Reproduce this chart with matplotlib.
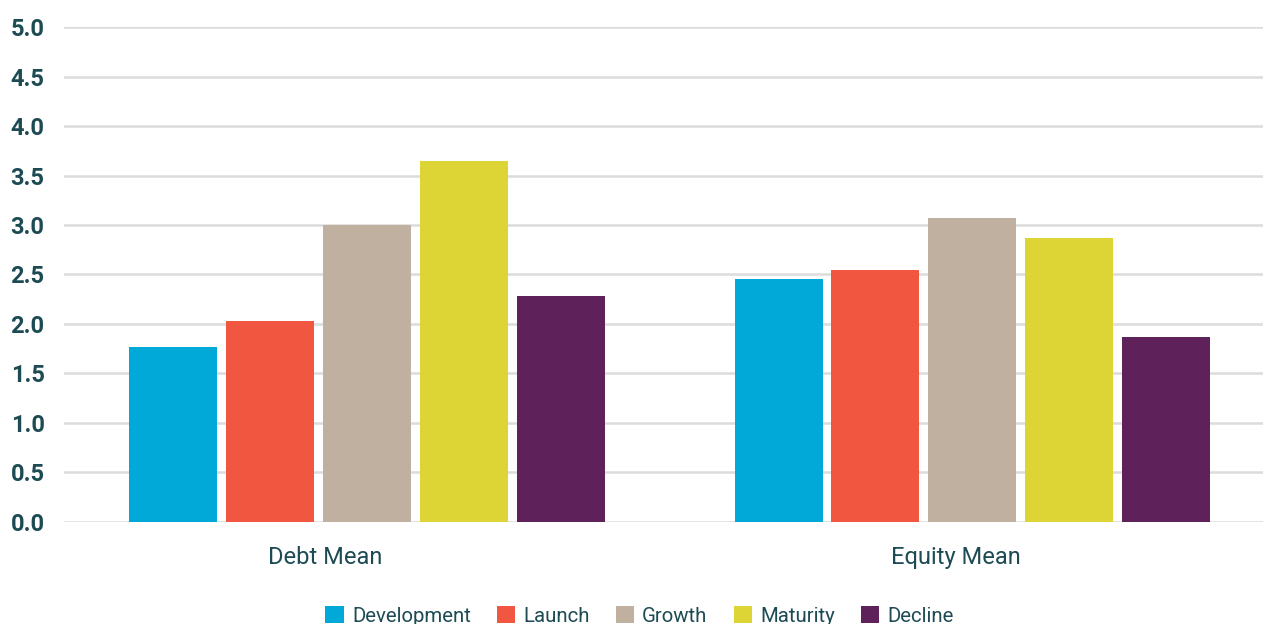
import numpy as np
import matplotlib.pyplot as plt

# data
groups = ['Debt Mean', 'Equity Mean']
stages = ['Development', 'Launch', 'Growth', 'Maturity', 'Decline']
development = [1.77, 2.45]
launch = [2.03, 2.55]
growth = [3.00, 3.07]
maturity = [3.65, 2.87]
decline = [2.28, 1.87]
colors = ['#00A9D8', '#F05640', '#BFB0A0', '#DCD535', '#5E2159']
yticks = np.arange(0, 5.01, 0.5)

txt = '#1D4B54'
plt.rcParams['font.family'] = ['Roboto', 'DejaVu Sans']

fig = plt.figure(figsize=(12.63, 6.24), dpi=100)
ax = fig.add_axes([0.0507, 0.1635, 0.9493, 0.7932])

series = [development, launch, growth, maturity, decline]
x = np.arange(len(groups))
step = 0.16
width = 0.1453
for i, (vals, name, c) in enumerate(zip(series, stages, colors)):
    ax.bar(x + (i - 2) * step, vals, width, color=c, label=name, zorder=3)

ax.set_ylim(0, 5)
ax.set_xlim(-0.5, 1.48)
ax.set_yticks(yticks)
ax.set_yticklabels([f'{v:.1f}' for v in yticks], fontsize=17, fontweight='bold', color=txt)
ax.tick_params(axis='y', length=0, pad=14)
ax.set_xticks([-0.0685, 0.9736])
ax.set_xticklabels(groups, fontsize=17, color=txt)
ax.tick_params(axis='x', length=0, pad=17)
ax.grid(axis='y', color='#DCDCDC', linewidth=1.8, zorder=0)
ax.set_axisbelow(True)
for s in ax.spines.values():
    s.set_visible(False)

leg = ax.legend(loc='lower center', bbox_to_anchor=(0.48, -0.247), ncol=5, frameon=False,
                fontsize=14.7, handlelength=0.9, handleheight=0.9, handletextpad=0.4,
                columnspacing=1.27)
for t in leg.get_texts():
    t.set_color(txt)

fig.savefig('out.png', dpi=100)
